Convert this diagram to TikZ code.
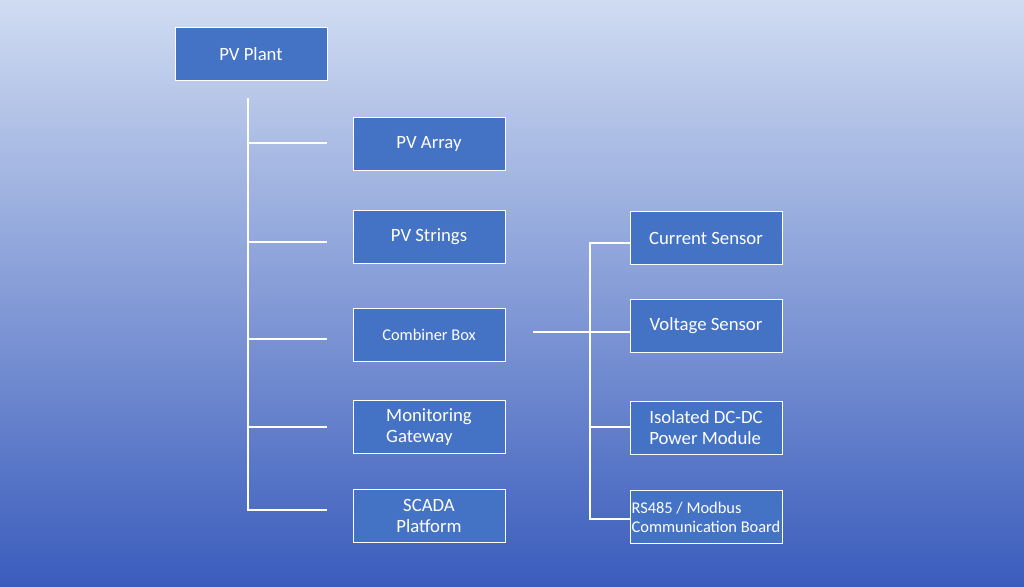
\documentclass[tikz,border=0pt]{standalone}
\usepackage{fontspec}
\setmainfont{Carlito}
\definecolor{boxblue}{RGB}{68,114,196}
\definecolor{bgtop}{RGB}{208,220,242}
\definecolor{bgmid}{RGB}{176,196,236}
\definecolor{bgbot}{RGB}{58,92,188}
\tikzset{
  blk/.style={draw=white,thick,fill=boxblue,text=white,minimum width=4.56cm,minimum height=1.59cm,font=\fontsize{16}{18}\selectfont},
  wire/.style={draw=white,line width=1.5pt}
}
\begin{document}
\begin{tikzpicture}[x=0.03cm,y=-0.03cm]
    \shade[top color=bgtop,middle color=bgmid,bottom color=bgbot] (0,0) rectangle (1024,587);
    \useasboundingbox (0,0) rectangle (1024,587);

    \node[blk] (plant) at (251,54) {PV Plant};
    \node[blk] (array) at (429,144) {PV Array};
    \node[blk] (strings) at (429,237) {PV Strings};
    \node[blk,font=\fontsize{14}{16}\selectfont] (comb) at (429,335) {Combiner Box};
    \node[blk,align=left] (gw) at (429,427) {Monitoring\\Gateway};
    \node[blk,align=center] (scada) at (429,516) {SCADA\\Platform};

    \node[blk] (cur) at (706,238) {Current Sensor};
    \node[blk] (volt) at (706,326) {Voltage Sensor};
    \node[blk,align=left] (iso) at (706,428) {Isolated DC-DC\\Power Module};
    \node[blk,align=left,font=\fontsize{14}{16}\selectfont,inner sep=1pt] (rs) at (706,517) {RS485 / Modbus\\Communication Board};

    % left tree
    \coordinate (top) at (248,98);
    \coordinate (bot) at (248,510);
    \draw[wire] (top) -- (bot) -- (327,510);
    \foreach \y in {143,242,339,427}
        \draw[wire] (248,\y) -- (327,\y);

    % right tree
    \coordinate (rtop) at (590,243);
    \coordinate (rbot) at (590,519);
    \draw[wire] (cur.west |- rtop) -- (rtop) -- (rbot) -- (rs.west |- rbot);
    \foreach \y in {332,427}
        \draw[wire] (590,\y) -- (630,\y);
    \draw[wire] (533,332) -- (610,332);
\end{tikzpicture}
\end{document}
